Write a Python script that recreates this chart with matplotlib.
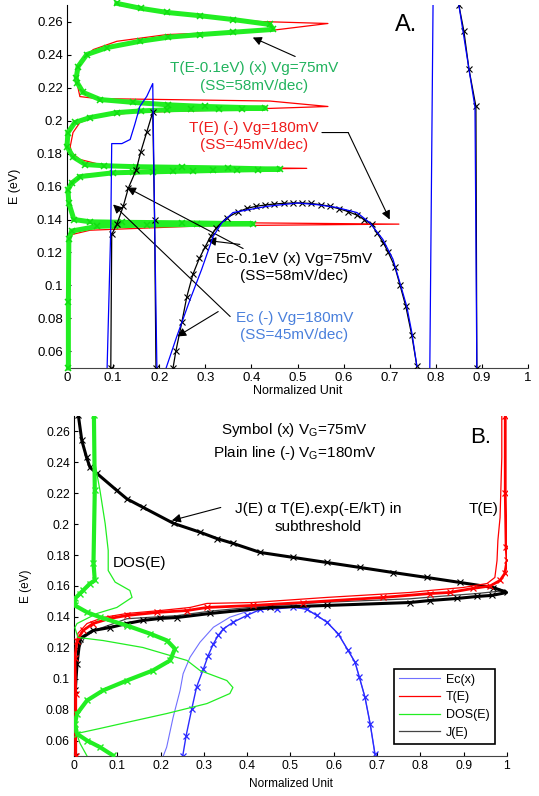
"""Two-panel band/transmission plot (A: T(E) and Ec, B: Ec, T, DOS, J)."""
import matplotlib.pyplot as plt
import numpy as np

plt.rcParams['font.family'] = ['Liberation Sans', 'DejaVu Sans']
plt.rcParams['mathtext.fontset'] = 'custom'
plt.rcParams['mathtext.rm'] = 'Liberation Sans'

nan = np.nan

# ---------------- panel A ----------------
# T(E) (-) Vg=180mV
a_red_E = [0.050, 0.100, 0.128, 0.131, 0.1335, 0.1362, 0.1372, 0.1382, 0.1388, 0.1405,
           0.150, 0.158, 0.163, 0.1673, 0.1697, 0.1703, 0.1710, 0.1717, 0.1722, 0.1733,
           0.1764, 0.1806, 0.1842, 0.1927, 0.1988, 0.2024, 0.2048, 0.2065, 0.2085, 0.2118,
           0.2133, 0.2145, 0.2248, 0.2358, 0.2430, 0.2480, 0.2521, 0.2545, 0.2588, 0.2600,
           0.2630, 0.2680, 0.2700]
a_red_x = [0.002, 0.002, 0.004, 0.012, 0.050, 0.300, 0.720, 0.300, 0.050, 0.012,
           0.005, 0.005, 0.008, 0.040, 0.150, 0.300, 0.520, 0.300, 0.150, 0.072,
           0.028, 0.010, 0.007, 0.013, 0.028, 0.065, 0.143, 0.350, 0.566, 0.440,
           0.065, 0.028, 0.020, 0.028, 0.057, 0.108, 0.217, 0.440, 0.566, 0.418,
           0.290, 0.150, 0.110]

# T(E-0.1eV) (x) Vg=75mV
a_grn_E = [0.050, 0.090, 0.128, 0.133, 0.1358, 0.1362, 0.1366, 0.1370, 0.1374, 0.1380,
           0.1383, 0.1386, 0.1400, 0.150, 0.158, 0.162, 0.166, 0.1683, 0.1686, 0.1689,
           0.1692, 0.1694, 0.1697, 0.1700, 0.1702, 0.1705, 0.1712, 0.1716, 0.1720, 0.1726,
           0.1733, 0.178, 0.1842, 0.1927, 0.1988, 0.2018, 0.2048, 0.2058, 0.2065, 0.2068,
           0.2070, 0.2072, 0.2075, 0.2085, 0.2095, 0.2110, 0.2127, 0.2170, 0.2230, 0.2260,
           0.2327, 0.2400, 0.2442, 0.2480, 0.2505, 0.2521, 0.2535, 0.2552, 0.2582, 0.2612,
           0.2635, 0.2655, 0.2680, 0.2710]
a_grn_x = [0.003, 0.003, 0.004, 0.010, 0.065, 0.104, 0.174, 0.282, 0.403, 0.250,
           0.120, 0.050, 0.015, 0.004, 0.002, 0.010, 0.028, 0.100, 0.143, 0.187,
           0.230, 0.273, 0.317, 0.369, 0.414, 0.462, 0.350, 0.250, 0.150, 0.080,
           0.040, 0.013, 0.000, 0.002, 0.017, 0.050, 0.108, 0.160, 0.217, 0.270,
           0.330, 0.380, 0.430, 0.300, 0.220, 0.143, 0.072, 0.035, 0.022, 0.020,
           0.024, 0.043, 0.087, 0.158, 0.220, 0.289, 0.360, 0.447, 0.440, 0.360,
           0.289, 0.217, 0.160, 0.108]

# Ec (-) Vg=180mV
a_blu_x = [0.087, 0.095, 0.097, 0.119, 0.137, 0.147, 0.158, 0.173, 0.186, 0.190, 0.195, nan,
           0.215, 0.238, 0.267, 0.292, 0.317, 0.336, 0.360, 0.434, 0.500, 0.542,
           0.585, 0.629, 0.657, 0.685, 0.707, 0.722, 0.737, 0.748, 0.759, nan,
           0.787, 0.794, nan, 0.850, 0.872, 0.885, 0.889]
a_blu_E = [0.050, 0.135, 0.186, 0.186, 0.1885, 0.1976, 0.2085, 0.2146, 0.2224, 0.140, 0.050, nan,
           0.050, 0.069, 0.0915, 0.1097, 0.1297, 0.138, 0.1442, 0.148, 0.150, 0.149,
           0.1473, 0.1442, 0.138, 0.128, 0.116, 0.1018, 0.0873, 0.0715, 0.051, nan,
           0.050, 0.270, nan, 0.270, 0.231, 0.208, 0.050]

# Ec-0.1eV (x) Vg=75mV
a_blk_x = [0.095, 0.097, 0.108, 0.122, 0.133, 0.150, 0.160, 0.173, 0.186, 0.190, 0.193, nan,
           0.230, 0.236, 0.249, 0.260, 0.273, 0.287, 0.300, 0.312, 0.324, 0.346,
           0.370, 0.390, 0.410, 0.430, 0.450, 0.470, 0.490, 0.510, 0.530, 0.550,
           0.570, 0.590, 0.610, 0.630, 0.645, 0.661, 0.672, 0.686, 0.697, 0.711,
           0.722, 0.735, 0.748, 0.759, nan, 0.850, 0.861, 0.872, 0.887, 0.889]
a_blk_E = [0.050, 0.131, 0.137, 0.148, 0.159, 0.170, 0.181, 0.193, 0.205, 0.140, 0.050, nan,
           0.050, 0.060, 0.0776, 0.0933, 0.1067, 0.1164, 0.1236, 0.130, 0.135, 0.141,
           0.1445, 0.1467, 0.148, 0.1488, 0.1494, 0.1498, 0.150, 0.150, 0.1497, 0.149,
           0.148, 0.1465, 0.1448, 0.1425, 0.140, 0.137, 0.1321, 0.126, 0.120, 0.1115,
           0.1006, 0.0873, 0.0697, 0.051, nan, 0.270, 0.254, 0.231, 0.2085, 0.050]

# ---------------- panel B ----------------
# Ec(x)
b_ec_x = [0.206, 0.214, 0.229, 0.245, 0.252, 0.268, 0.291, 0.322, 0.360, 0.406, 0.453,
          0.506, 0.537, 0.561, 0.584, 0.610, 0.633, 0.649, 0.659, 0.672, 0.684, 0.695]
b_ec_E = [0.0498, 0.0557, 0.0751, 0.0924, 0.1032, 0.1139, 0.1236, 0.1333, 0.1398, 0.1441, 0.1463,
          0.1463, 0.1450, 0.1409, 0.1366, 0.1291, 0.1183, 0.1107, 0.1010, 0.0880, 0.0708, 0.0514]
b_ecx_x = [0.251, 0.259, 0.272, 0.283, 0.299, 0.310, 0.322, 0.333, 0.345, 0.368, 0.399,
           0.430, 0.468, 0.506, 0.537, 0.561, 0.584, 0.610, 0.633, 0.649, 0.659, 0.672,
           0.684, 0.695]
b_ecx_E = [0.0498, 0.0632, 0.0805, 0.0945, 0.1064, 0.1150, 0.1226, 0.1280, 0.1323, 0.1366, 0.1409,
           0.1448, 0.1452, 0.1463, 0.1450, 0.1409, 0.1366, 0.1291, 0.1183, 0.1107, 0.1010, 0.0880,
           0.0708, 0.0514]

# T(E)
b_t_x = [0.002, 0.002, 0.003, 0.009, 0.030, 0.067, 0.122, 0.199, 0.268, 0.307, 0.413,
         0.584, 0.776, 0.822, 0.898, 0.954, 0.972, 0.977, 0.979, 0.984, 0.988, 0.988]
b_t_E = [0.050, 0.090, 0.115, 0.1293, 0.1357, 0.1396, 0.1422, 0.1441, 0.1461, 0.1487, 0.1493,
         0.1526, 0.1558, 0.1571, 0.1590, 0.1616, 0.1655, 0.1765, 0.1895, 0.2043, 0.2432, 0.270]
b_tx_x = [0.004, 0.004, 0.002, 0.007, 0.021, 0.044, 0.083, 0.122, 0.192, 0.261, 0.307,
          0.413, 0.529, 0.714, 0.822, 0.868, 0.921, 0.961, 0.984, 0.995, 1.000, 0.998,
          0.996, 0.996]
b_tx_E = [0.050, 0.090, 0.1137, 0.1247, 0.1312, 0.1357, 0.1390, 0.1409, 0.1429, 0.1441, 0.1461,
          0.1474, 0.1493, 0.1526, 0.1551, 0.1558, 0.1584, 0.1600, 0.1636, 0.1681, 0.1765, 0.1849,
          0.2200, 0.2700]

# DOS(E)
b_dos_x = [0.030, 0.014, 0.006, 0.060, 0.122, 0.215, 0.307, 0.360, 0.367, 0.353, 0.291,
           0.261, 0.159, 0.067, 0.009, 0.002, 0.007, 0.053, 0.099, 0.134, 0.129, 0.095,
           0.079, 0.079, 0.072, 0.060, 0.048, 0.045]
b_dos_E = [0.050, 0.0581, 0.0645, 0.0678, 0.0717, 0.0775, 0.0839, 0.0904, 0.0943, 0.0988, 0.1053,
           0.1118, 0.1202, 0.1247, 0.1267, 0.1331, 0.1357, 0.1422, 0.1461, 0.1526, 0.1571, 0.1625,
           0.1700, 0.1830, 0.2003, 0.2218, 0.2400, 0.2704]
b_dosx_x = [0.090, 0.060, 0.030, 0.007, 0.002, 0.007, 0.030, 0.067, 0.122, 0.182, 0.222,
            0.233, 0.215, 0.176, 0.122, 0.060, 0.030, 0.002, 0.002, 0.014, 0.021, 0.037,
            0.048, 0.045, 0.048, 0.046]
b_dosx_E = [0.0503, 0.0557, 0.0600, 0.0643, 0.0708, 0.0773, 0.0859, 0.0924, 0.0988, 0.1053, 0.1118,
            0.1194, 0.1247, 0.1291, 0.1344, 0.1398, 0.1430, 0.1474, 0.1519, 0.1551, 0.1571, 0.1616,
            0.1636, 0.1750, 0.2220, 0.2704]

# J(E)
b_j_x = [0.003, 0.003, 0.006, 0.012, 0.025, 0.050, 0.122, 0.238, 0.314, 0.453, 0.584,
         0.776, 0.822, 0.930, 0.995, 0.968, 0.891, 0.815, 0.737, 0.660, 0.584, 0.506,
         0.430, 0.368, 0.330, 0.291, 0.230, 0.160, 0.122, 0.099, 0.053, 0.037, 0.029,
         0.018, 0.010]
b_j_E = [0.050, 0.090, 0.110, 0.120, 0.127, 0.1315, 0.1388, 0.1408, 0.1437, 0.1474, 0.1495,
         0.1517, 0.1528, 0.1551, 0.1570, 0.1590, 0.1623, 0.1655, 0.1687, 0.1720, 0.1752, 0.1785,
         0.1817, 0.1875, 0.1907, 0.1948, 0.2005, 0.2108, 0.2164, 0.2218, 0.2328, 0.2367, 0.2432,
         0.2542, 0.2704]
b_jx_x = [0.003, 0.003, 0.007, 0.014, 0.044, 0.083, 0.122, 0.159, 0.199, 0.238, 0.314,
          0.453, 0.584, 0.776, 0.822, 0.884, 0.930, 0.965, 1.000, 0.968, 0.891, 0.815,
          0.737, 0.660, 0.584, 0.506, 0.430, 0.368, 0.330, 0.291, 0.230, 0.160, 0.122,
          0.099, 0.053, 0.037, 0.029, 0.018, 0.010]
b_jx_E = [0.050, 0.0924, 0.1098, 0.1260, 0.1312, 0.1331, 0.1357, 0.1377, 0.1390, 0.1396, 0.1422,
          0.1461, 0.1474, 0.1493, 0.1506, 0.1519, 0.1532, 0.1539, 0.1558, 0.1590, 0.1623, 0.1655,
          0.1687, 0.1720, 0.1752, 0.1785, 0.1817, 0.1875, 0.1907, 0.1948, 0.2005, 0.2108, 0.2164,
          0.2218, 0.2328, 0.2367, 0.2432, 0.2542, 0.2704]

x_ticks = np.round(np.arange(0, 1.01, 0.1), 1)
x_labels = ['0', '0.1', '0.2', '0.3', '0.4', '0.5', '0.6', '0.7', '0.8', '0.9', '1']
y_ticks = np.round(np.arange(0.06, 0.261, 0.02), 2)
y_labels = ['0.06', '0.08', '0.1', '0.12', '0.14', '0.16', '0.18', '0.2', '0.22', '0.24', '0.26']

GREEN = '#22ee22'
GREEN_TXT = '#22b35e'
RED_TXT = '#ee1c1c'
BLUE_TXT = '#4a80dc'


def style(ax, fs, lab_fs, ylab_x, xlab_y):
    ax.set_xlim(0, 1)
    ax.set_ylim(0.05, 0.27)
    ax.spines[['top', 'right']].set_visible(False)
    ax.spines['bottom'].set_color('#444444')
    ax.set_xticks(x_ticks)
    ax.set_xticklabels(x_labels)
    ax.set_yticks(y_ticks)
    ax.set_yticklabels(y_labels)
    ax.tick_params(direction='in', length=3, width=0.8, labelsize=fs, pad=3)
    ax.set_xlabel('Normalized Unit', fontsize=lab_fs)
    ax.set_ylabel('E (eV)', fontsize=lab_fs)
    ax.yaxis.set_label_coords(ylab_x, 0.5)
    ax.xaxis.set_label_coords(0.5, xlab_y)


def arrow(ax, tip, tail):
    ax.annotate('', xy=tip, xytext=tail,
                arrowprops=dict(arrowstyle='-|>', color='k', lw=0.8,
                                mutation_scale=13, shrinkA=0, shrinkB=0))


fig = plt.figure(figsize=(5.39, 7.96), dpi=100)

# ---------- A ----------
axA = fig.add_axes([0.1243, 0.5377, 0.8553, 0.4560])
axA.plot(a_red_x, a_red_E, color='#ff0000', lw=0.9, zorder=2)
axA.plot(a_grn_x, a_grn_E, color=GREEN, lw=3.6, marker='x', ms=5, mew=1.1,
         mec='#11dd11', zorder=3, clip_on=False)
axA.plot(a_blk_x, a_blk_E, color='k', lw=0.9, marker='x', ms=4, mew=0.8, zorder=4)
axA.plot(a_blu_x, a_blu_E, color='#0000ff', lw=0.9, zorder=5)
style(axA, 9.5, 9, -0.10, -0.047)

axA.text(0.406, 0.2264, 'T(E-0.1eV) (x) Vg=75mV\n(SS=58mV/dec)', color=GREEN_TXT,
         fontsize=11, ha='center', va='center', linespacing=1.3, zorder=6)
axA.text(0.406, 0.1903, 'T(E) (-) Vg=180mV\n(SS=45mV/dec)', color=RED_TXT,
         fontsize=11, ha='center', va='center', linespacing=1.3, zorder=6)
axA.text(0.4935, 0.1109, 'Ec-0.1eV (x) Vg=75mV\n(SS=58mV/dec)', color='k',
         fontsize=11, ha='center', va='center', linespacing=1.3, zorder=6)
axA.text(0.4935, 0.0752, 'Ec (-) Vg=180mV\n(SS=45mV/dec)', color=BLUE_TXT,
         fontsize=11, ha='center', va='center', linespacing=1.3, zorder=6)
axA.text(0.711, 0.258, 'A.', fontsize=17, ha='left', va='center')

arrow(axA, (0.403, 0.2503), (0.495, 0.2388))
axA.annotate('', xy=(0.61, 0.1927), xytext=(0.553, 0.1927),
             arrowprops=dict(arrowstyle='-', color='k', lw=0.8, shrinkA=0, shrinkB=0))
arrow(axA, (0.70, 0.1400), (0.61, 0.1927))
arrow(axA, (0.130, 0.1594), (0.382, 0.1224))
arrow(axA, (0.304, 0.1273), (0.375, 0.1249))
arrow(axA, (0.100, 0.1491), (0.354, 0.0812))
arrow(axA, (0.239, 0.0691), (0.328, 0.0842))

# ---------- B ----------
axB = fig.add_axes([0.1373, 0.0503, 0.8033, 0.4271])
l_ec, = axB.plot(b_ec_x, b_ec_E, color='#7070ff', lw=0.8, zorder=2)
axB.plot(b_ecx_x, b_ecx_E, color='#2a2aff', lw=1.0, marker='x', ms=4, mew=0.9, zorder=2)
l_j, = axB.plot(b_j_x, b_j_E, color='#444444', lw=0.9, zorder=3)
axB.plot(b_jx_x, b_jx_E, color='k', lw=2.2, marker='x', ms=4, mew=0.8, zorder=3)
l_t, = axB.plot(b_t_x, b_t_E, color='#ff0000', lw=0.9, zorder=4)
axB.plot(b_tx_x, b_tx_E, color='#ff0000', lw=2.0, marker='x', ms=4.5, mew=0.9, zorder=4)
l_d, = axB.plot(b_dos_x, b_dos_E, color=GREEN, lw=0.9, zorder=5)
axB.plot(b_dosx_x, b_dosx_E, color=GREEN, lw=3.0, marker='x', ms=4.5, mew=1.0, zorder=5)
style(axB, 8.8, 8.5, -0.097, -0.066)

axB.text(0.51, 0.2535, 'Symbol (x) V$_\\mathrm{G}$=75mV\nPlain line (-) V$_\\mathrm{G}$=180mV',
         fontsize=11, ha='center', va='center', linespacing=1.4)
axB.text(0.5635, 0.204, 'J(E) \u03b1 T(E).exp(-E/kT) in\nsubthreshold',
         fontsize=11, ha='center', va='center', linespacing=1.3)
arrow(axB, (0.226, 0.2024), (0.339, 0.2108))
axB.text(0.152, 0.1746, 'DOS(E)', fontsize=11, ha='center', va='center')
axB.text(0.947, 0.2095, 'T(E)', fontsize=11, ha='center', va='center')
axB.text(0.915, 0.256, 'B.', fontsize=16, ha='left', va='center')

leg = axB.legend([l_ec, l_t, l_d, l_j], ['Ec(x)', 'T(E)', 'DOS(E)', 'J(E)'],
                 loc='lower right', bbox_to_anchor=(0.986, 0.0176), fontsize=9,
                 fancybox=False, edgecolor='k', framealpha=1, handlelength=3.3,
                 borderpad=0.4, labelspacing=0.45, handletextpad=0.5)
leg.get_frame().set_linewidth(1.2)

fig.savefig('out.png', dpi=100)
